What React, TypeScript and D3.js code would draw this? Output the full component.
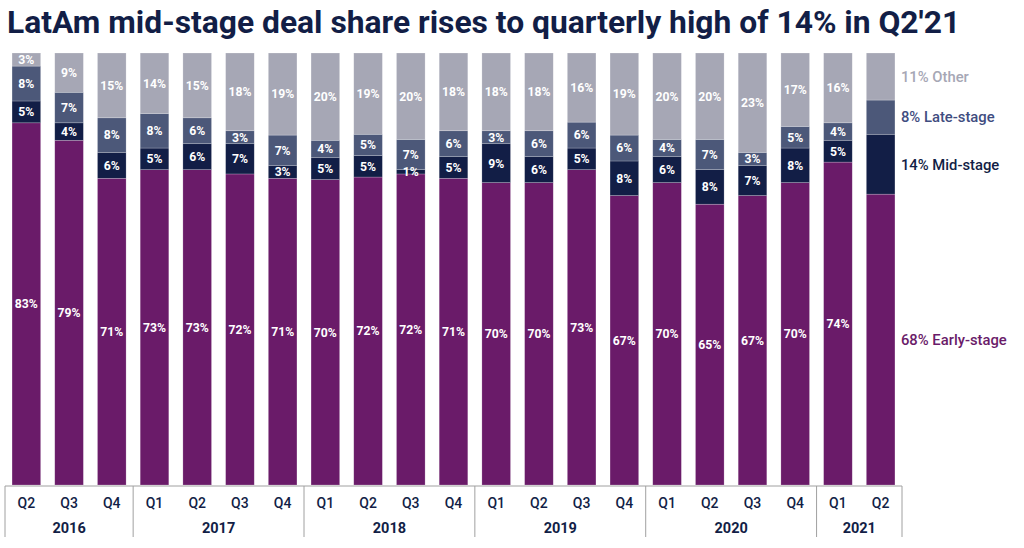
import { useEffect, useRef } from 'react';
import * as d3 from 'd3';

const WIDTH = 1024;
const HEIGHT = 548;
const MARGIN = { top: 53, left: 5, right: 122, bottom: 63 };

const quarters = [
  'Q2', 'Q3', 'Q4',
  'Q1', 'Q2', 'Q3', 'Q4',
  'Q1', 'Q2', 'Q3', 'Q4',
  'Q1', 'Q2', 'Q3', 'Q4',
  'Q1', 'Q2', 'Q3', 'Q4',
  'Q1', 'Q2',
];
const years = ['2016', '2016', '2016',
  '2017', '2017', '2017', '2017',
  '2018', '2018', '2018', '2018',
  '2019', '2019', '2019', '2019',
  '2020', '2020', '2020', '2020',
  '2021', '2021'];

const earlyStage = [83, 79, 71, 73, 73, 72, 71, 70, 72, 72, 71, 70, 70, 73, 67, 70, 65, 67, 70, 74, 68];
const midStage = [5, 4, 6, 5, 6, 7, 3, 5, 5, 1, 5, 9, 6, 5, 8, 6, 8, 7, 8, 5, 14];
const lateStage = [8, 7, 8, 8, 6, 3, 7, 4, 5, 7, 6, 3, 6, 6, 6, 4, 7, 3, 5, 4, 8];
const other = [3, 9, 15, 14, 15, 18, 19, 20, 19, 20, 18, 18, 18, 16, 19, 20, 20, 23, 17, 16, 11];

const seriesKeys = ['early', 'mid', 'late', 'other'];
const seriesNames = ['Early-stage', 'Mid-stage', 'Late-stage', 'Other'];
const colors = ['#6a1b69', '#121e46', '#4c5879', '#a6a7b5'];
const labelColors = ['#6a1b69', '#121e46', '#3f4d80', '#a6a7b5'];

const NAVY = '#121e46';
const FONT = 'Roboto, "Noto Sans", sans-serif';

export default function App() {
  const svgRef = useRef(null);

  useEffect(() => {
    const svg = d3.select(svgRef.current);
    svg.selectAll('*').remove();

    const rows = quarters.map((q, i) => ({
      key: `${years[i]}-${q}`,
      early: earlyStage[i],
      mid: midStage[i],
      late: lateStage[i],
      other: other[i],
    }));

    const x = d3.scaleBand()
      .domain(rows.map((d) => d.key))
      .range([MARGIN.left, WIDTH - MARGIN.right])
      .paddingInner(0.33)
      .paddingOuter(0.165);

    const y = d3.scaleLinear()
      .domain([0, 1])
      .range([HEIGHT - MARGIN.bottom, MARGIN.top]);

    const stack = d3.stack()
      .keys(seriesKeys)
      .offset(d3.stackOffsetExpand);
    const stacked = stack(rows);

    // title
    svg.append('text')
      .attr('x', 7)
      .attr('y', 33)
      .attr('font-family', FONT)
      .attr('font-weight', 700)
      .attr('font-size', 31.8)
      .attr('fill', NAVY)
      .text("LatAm mid-stage deal share rises to quarterly high of 14% in Q2'21");

    const layers = svg.append('g')
      .selectAll('g')
      .data(stacked)
      .join('g')
      .attr('fill', (d, i) => colors[i]);

    layers.selectAll('rect')
      .data((d) => d)
      .join('rect')
      .attr('x', (d) => x(d.data.key))
      .attr('y', (d) => y(d[1]))
      .attr('width', x.bandwidth())
      .attr('height', (d) => y(d[0]) - y(d[1]))
      .attr('stroke', '#ffffff')
      .attr('stroke-opacity', 0.35)
      .attr('stroke-width', 0.6);

    // value labels inside segments (all but last bar)
    const last = rows.length - 1;
    stacked.forEach((layer) => {
      svg.append('g')
        .selectAll('text')
        .data(layer.filter((d, i) => i < last))
        .join('text')
        .attr('x', (d) => x(d.data.key) + x.bandwidth() / 2)
        .attr('y', (d) => (y(d[0]) + y(d[1])) / 2)
        .attr('dy', '0.36em')
        .attr('text-anchor', 'middle')
        .attr('font-family', FONT)
        .attr('font-weight', 700)
        .attr('font-size', 12.2)
        .attr('fill', '#ffffff')
        .text((d) => `${d.data[layer.key]}%`);
    });

    // right-hand labels for last bar
    stacked.forEach((layer, i) => {
      const d = layer[last];
      svg.append('text')
        .attr('x', x(d.data.key) + x.bandwidth() + 6)
        .attr('y', (y(d[0]) + y(d[1])) / 2)
        .attr('dy', '0.36em')
        .attr('font-family', FONT)
        .attr('font-weight', 500)
        .attr('font-size', 14.8)
        .attr('fill', labelColors[i])
        .text(`${d.data[layer.key]}% ${seriesNames[i]}`);
    });

    // axis
    const axisY = HEIGHT - MARGIN.bottom + 1;
    const axis = svg.append('g');
    axis.append('line')
      .attr('x1', MARGIN.left)
      .attr('x2', WIDTH - MARGIN.right)
      .attr('y1', axisY)
      .attr('y2', axisY)
      .attr('stroke', '#a0a0a0')
      .attr('stroke-width', 1);

    axis.selectAll('text.q')
      .data(rows)
      .join('text')
      .attr('class', 'q')
      .attr('x', (d) => x(d.key) + x.bandwidth() / 2)
      .attr('y', axisY + 22)
      .attr('text-anchor', 'middle')
      .attr('font-family', FONT)
      .attr('font-weight', 500)
      .attr('font-size', 14)
      .attr('fill', NAVY)
      .text((d, i) => quarters[i]);

    const step = x.step();
    const groups = d3.groups(rows.map((d, i) => ({ year: years[i], i })), (d) => d.year)
      .map(([year, items]) => ({
        year,
        start: MARGIN.left + items[0].i * step,
        end: MARGIN.left + (items[items.length - 1].i + 1) * step,
      }));

    const bounds = [groups[0].start, ...groups.map((g) => g.end)];
    axis.selectAll('line.div')
      .data(bounds)
      .join('line')
      .attr('class', 'div')
      .attr('x1', (d) => d)
      .attr('x2', (d) => d)
      .attr('y1', axisY)
      .attr('y2', axisY + 51)
      .attr('stroke', '#a0a0a0')
      .attr('stroke-width', 1);

    axis.selectAll('text.y')
      .data(groups)
      .join('text')
      .attr('class', 'y')
      .attr('x', (d) => (d.start + d.end) / 2)
      .attr('y', axisY + 47)
      .attr('text-anchor', 'middle')
      .attr('font-family', FONT)
      .attr('font-weight', 700)
      .attr('font-size', 14.5)
      .attr('fill', NAVY)
      .text((d) => d.year);
  }, []);

  return (
    <svg
      ref={svgRef}
      width={WIDTH}
      height={HEIGHT}
      viewBox={`0 0 ${WIDTH} ${HEIGHT}`}
      style={{ position: 'absolute', left: 0, top: 0, background: '#ffffff' }}
    />
  );
}
